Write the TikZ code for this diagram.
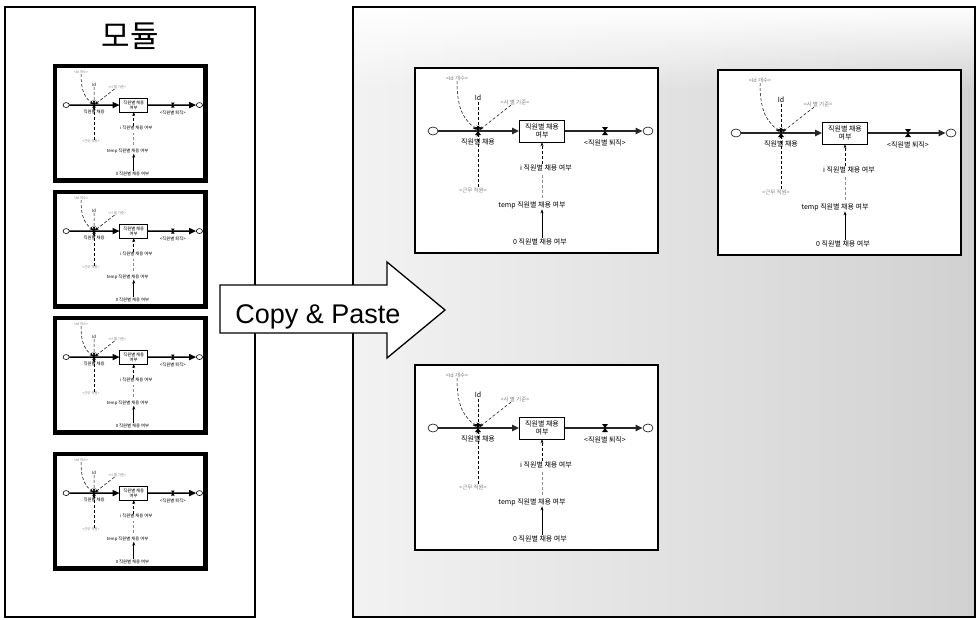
\documentclass[tikz,border=0pt]{standalone}
\usepackage{fontspec}
\setmainfont{Liberation Sans}
\newfontfamily\kr{Noto Sans CJK KR}
\usetikzlibrary{arrows.meta,shapes.geometric,fadings}

\tikzset{
  lbl/.style={font=\kr\fontsize{7}{8}\selectfont, inner sep=0.5pt, text=black},
  faint/.style={font=\kr\fontsize{5.5}{6}\selectfont, inner sep=0.5pt, text=black!50},
  pipe/.style={line width=2pt, draw=black!85},
  modframe/.style={line width=1.3pt},
  dep/.style={densely dashed, line width=0.5pt, -{Stealth[length=4pt,width=3pt]}},
  sol/.style={line width=0.6pt, -{Stealth[length=4pt,width=3pt]}},
  cloudnode/.style={ellipse, draw, line width=0.6pt, minimum width=10pt, minimum height=8pt, inner sep=0pt, fill=white},
  valvenode/.style={circle, fill=black, minimum size=3pt, inner sep=0pt},
  module/.pic={
    \draw[modframe, fill=white] (0,0) rectangle (243,185);
    \node[cloudnode] (-src) at (18,63) {};
    \node[cloudnode] (-snk) at (233,63) {};
    \node[draw, line width=0.6pt, minimum width=45pt, minimum height=22pt, inner sep=1pt, align=center, lbl, fill=white] (-box) at (127,63) {직원별 채용\\여부};
    \node[valvenode] (-val1) at (63,63) {};
    \node[valvenode] (-val2) at (190,63) {};
    \draw[pipe, -{Triangle[length=7pt,width=6pt]}] (-src) -- (-box);
    \draw[pipe, -{Triangle[length=7pt,width=6pt]}] (-box) -- (-snk);
    \fill (-val1.center) ++(-3,-4) -- ++(6,8) -- ++(-6,0) -- ++(6,-8) -- cycle;
    \fill (-val2.center) ++(-3,-4) -- ++(6,8) -- ++(-6,0) -- ++(6,-8) -- cycle;
    \node[lbl] (-fin) at (63,74) {직원별 채용};
    \node[lbl] (-fout) at (190,75) {<직원별 퇴직>};
    \node[faint] (-tl) at (42,10) {<Id 개수>};
    \node[lbl] (-id) at (63,30) {Id};
    \node[faint] (-tr) at (100,34) {<시 별 기준>};
    \node[faint] (-bl) at (58,122) {<근무 직원>};
    \node[lbl] (-i) at (131,100) {i 직원별 채용 여부};
    \node[lbl] (-temp) at (117,137) {temp 직원별 채용 여부};
    \node[lbl] (-zero) at (125,174) {0 직원별 채용 여부};
    \draw[dep] (-tl) .. controls +(0,32) and +(-14,-12) .. (-val1);
    \draw[dep] (-id) -- (-val1);
    \draw[dep] (-tr) -- (-val1);
    \draw[dep] (-bl.north -| -val1.south) -- (-val1.south);
    \draw[dep] (-i.north -| -box.south) -- (-box.south);
    \draw[densely dashed, line width=0.5pt, black!45, shorten >=3pt, shorten <=3pt] (-temp.north -| -box.south) -- (-i.south -| -box.south);
    \draw[sol] (-zero.north -| -box.south) -- (-temp.south -| -box.south);
  }
}

\begin{document}
\begin{tikzpicture}[x=1pt,y=-1pt]
  \useasboundingbox (0,0) rectangle (977,619);
  % right panel background
  \fill[left color=gray!10, right color=gray!36] (353,7) rectangle (975,617);
  \fill[white, path fading=south] (353,7) rectangle (975,90);
  \draw[line width=1.2pt] (353,7) rectangle (975,617);
  % left panel
  \draw[line width=1.2pt, fill=white] (5,7) rectangle (255,617);
  \node[font=\kr\fontsize{31}{34}\selectfont] (title) at (130,36) {모듈};
  % small modules
  \pic[scale=0.62, transform shape, modframe/.style={line width=4.5pt}, pipe/.style={line width=1.4pt}] (m1) at (55,66) {module};
  \pic[scale=0.62, transform shape, modframe/.style={line width=4.5pt}, pipe/.style={line width=1.4pt}] (m2) at (55,192) {module};
  \pic[scale=0.62, transform shape, modframe/.style={line width=4.5pt}, pipe/.style={line width=1.4pt}] (m3) at (55,318) {module};
  \pic[scale=0.62, transform shape, modframe/.style={line width=4.5pt}, pipe/.style={line width=1.4pt}] (m4) at (55,454) {module};
  % big modules
  \pic (A) at (415,68) {module};
  \pic (B) at (718,70) {module};
  \pic (C) at (415,365) {module};
  % copy & paste arrow
  \draw[line width=1.3pt, fill=white, line join=miter] (220,285) -- (387,285) -- (387,262) -- (445,310) -- (387,358) -- (387,333) -- (220,333) -- cycle;
  \node[font=\fontsize{27}{30}\selectfont, anchor=base] (cp) at (318,323) {Copy \& Paste};
\end{tikzpicture}
\end{document}
